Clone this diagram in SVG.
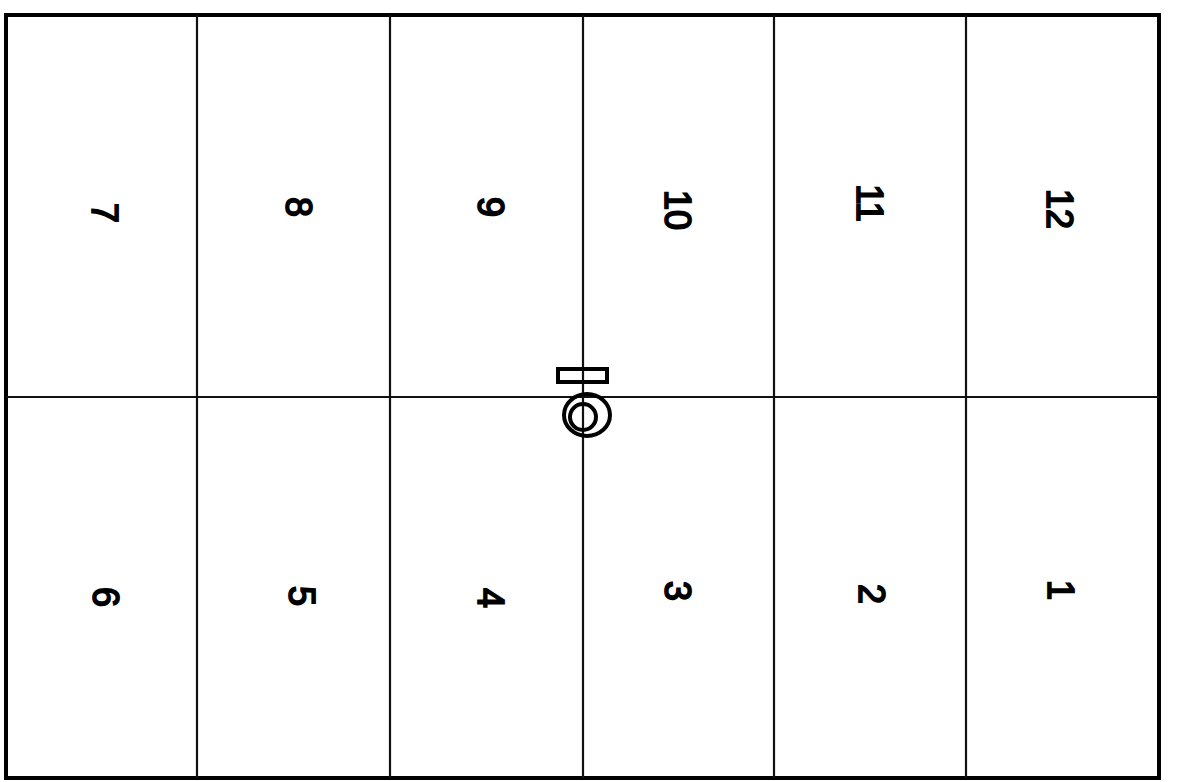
<svg xmlns="http://www.w3.org/2000/svg" width="1179" height="782" viewBox="0 0 1179 782">
<style>
.num{font-family:"Liberation Sans",Arial,sans-serif;font-size:36px;fill:#000;text-anchor:middle;dominant-baseline:central;stroke:#000;stroke-width:1.8px}
.ln{stroke:#111;stroke-width:2.2;fill:none}
</style>
<rect width="1179" height="782" fill="#fff"/>
<g id="frame">
<rect x="6" y="15" width="1153" height="763" fill="none" stroke="#000" stroke-width="4"/>
</g>
<g id="connectors">
<line class="ln" x1="197" y1="15" x2="197" y2="778"/>
<line class="ln" x1="390" y1="15" x2="390" y2="778"/>
<line class="ln" x1="583" y1="15" x2="583" y2="778"/>
<line class="ln" x1="774" y1="15" x2="774" y2="778"/>
<line class="ln" x1="966" y1="15" x2="966" y2="778"/>
<line class="ln" x1="6" y1="397" x2="1159" y2="397"/>
</g>
<g id="marker-symbol" fill="none" stroke="#000" stroke-width="4">
<rect x="558" y="369" width="49" height="13"/>
<ellipse cx="587" cy="415" rx="23" ry="21"/>
<ellipse cx="583" cy="417" rx="13" ry="13"/>
</g>
<g id="n7"><text class="num" transform="translate(104,213) rotate(90)">7</text></g>
<g id="n8"><text class="num" transform="translate(298,207) rotate(90)">8</text></g>
<g id="n9"><text class="num" transform="translate(490,207) rotate(90)">9</text></g>
<g id="n10"><text class="num" transform="translate(677,210) rotate(90)">10</text></g>
<g id="n11"><text class="num" transform="translate(869,203) rotate(90)">11</text></g>
<g id="n12"><text class="num" transform="translate(1059,209) rotate(90)">12</text></g>
<g id="n6"><text class="num" transform="translate(105,597) rotate(90)">6</text></g>
<g id="n5"><text class="num" transform="translate(301,596) rotate(90)">5</text></g>
<g id="n4"><text class="num" transform="translate(490,598) rotate(90)">4</text></g>
<g id="n3"><text class="num" transform="translate(677,591) rotate(90)">3</text></g>
<g id="n2"><text class="num" transform="translate(871,594) rotate(90)">2</text></g>
<g id="n1"><text class="num" transform="translate(1060,590) rotate(90)">1</text></g>
</svg>
